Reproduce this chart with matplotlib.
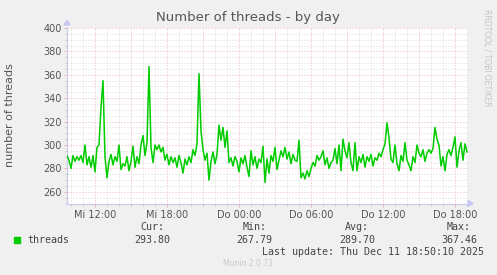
import numpy as np
import matplotlib
matplotlib.use("Agg")
import matplotlib.pyplot as plt
from matplotlib.ticker import MultipleLocator

# ---- data (10-minute samples starting Wed 09:40) ----
start_hour = 9 + 40 / 60
step_hours = 10 / 60
threads = [
    291, 287, 280, 291, 286, 290, 287, 291, 285, 300,
    283, 290, 281, 291, 277, 298, 300, 332, 355, 290,
    272, 286, 292, 283, 290, 286, 300, 279, 284, 282,
    290, 278, 286, 299, 281, 290, 284, 300, 308, 291,
    302, 367, 298, 285, 300, 296, 300, 294, 298, 287,
    292, 283, 290, 285, 289, 281, 291, 285, 276, 288,
    283, 290, 285, 296, 291, 301, 361, 312, 296, 287,
    293, 270, 286, 294, 284, 292, 317, 304, 315, 298,
    312, 285, 289, 282, 290, 286, 277, 289, 284, 291,
    281, 273, 295, 283, 290, 280, 288, 285, 299, 268,
    288, 276, 291, 286, 298, 279, 287, 295, 290, 298,
    288, 294, 284, 292, 287, 286, 304, 272, 276, 271,
    278, 273, 280, 285, 282, 291, 287, 290, 295, 283,
    289, 280, 285, 287, 297, 284, 300, 278, 305, 295,
    289, 302, 285, 278, 302, 278, 290, 285, 292, 281,
    290, 286, 292, 282, 289, 287, 293, 290, 296, 301,
    319, 306, 288, 285, 300, 284, 278, 291, 286, 302,
    287, 283, 278, 290, 285, 300, 293, 290, 296, 286,
    293, 296, 293, 297, 315, 305, 300, 282, 290, 278,
    292, 296, 291, 298, 307, 281, 295, 302, 287, 301,
    294,
]
tick_hours = [12, 18, 24, 30, 36, 42]
tick_labels = ["Mi 12:00", "Mi 18:00", "Do 00:00", "Do 06:00", "Do 12:00", "Do 18:00"]
y_ticks = [260, 280, 300, 320, 340, 360, 380, 400]
stat_names = ["Cur:", "Min:", "Avg:", "Max:"]
stat_values = ["293.80", "267.79", "289.70", "367.46"]

hours = start_hour + step_hours * np.arange(len(threads))

W, H = 497, 275
fig = plt.figure(figsize=(W / 100, H / 100), dpi=100, facecolor="#f0f0f0")
L, R, T, B = 67, 468, 28, 203.5
ax = fig.add_axes([L / W, 1 - B / H, (R - L) / W, (B - T) / H])
ax.set_facecolor("white")

ax.set_xlim(start_hour, start_hour + (R - L) / 12)
ax.set_ylim(250, 400)

# grid
minor_col = "#d8d8d8"
major_col = "#eab4b4"
dots = (0, (1, 2))
for h in np.arange(10, 44, 1):
    col = major_col if h % 3 == 0 else minor_col
    ax.axvline(h, color=col, lw=0.72, ls=dots, zorder=1)
for v in np.arange(255, 401, 5):
    col = major_col if v % 20 == 0 else minor_col
    ax.axhline(v, color=col, lw=0.72, ls=dots, zorder=1)

ax.plot(hours, threads, color="#00cc00", lw=1.1, zorder=3)

for s in ["top", "right"]:
    ax.spines[s].set_visible(False)
for s in ["left", "bottom"]:
    ax.spines[s].set_color("#c8c8f0")
    ax.spines[s].set_linewidth(0.8)

ax.set_xticks(tick_hours)
ax.set_xticklabels(tick_labels)
ax.xaxis.set_minor_locator(MultipleLocator(1))
ax.set_yticks(y_ticks)
ax.set_yticklabels([str(v) for v in y_ticks])
ax.yaxis.set_minor_locator(MultipleLocator(5))
ax.tick_params(axis="both", which="major", length=2, width=0.6, color="#e8a8a8",
               labelsize=7, labelcolor="#555555", pad=2)
ax.tick_params(axis="both", which="minor", length=1.5, width=0.6, color="#c0c0c0")
ax.tick_params(axis="x", which="major", pad=3)

# axis arrows
fig.patches.append(plt.Polygon([[(L - 3) / W, 1 - 25 / H], [(L + 3) / W, 1 - 25 / H], [L / W, 1 - 20 / H]],
                               closed=True, transform=fig.transFigure, color="#c8c8f0"))
fig.patches.append(plt.Polygon([[(R) / W, 1 - (B - 3) / H], [(R) / W, 1 - (B + 3) / H], [(R + 5) / W, 1 - B / H]],
                               closed=True, transform=fig.transFigure, color="#c8c8f0"))

def fx(x):
    return x / W

def fy(y):
    return 1 - y / H

fig.text(fx(248), fy(18), "Number of threads - by day", ha="center", va="center",
         fontsize=9.5, color="#555555")
fig.text(fx(10), fy(115.5), "number of threads", rotation=90, ha="center", va="center",
         fontsize=8, color="#555555")
fig.text(fx(487), fy(58), "RRDTOOL / TOBI OETIKER", rotation=270, ha="center", va="center",
         fontsize=5.5, color="#c4c4c4")

mono = "DejaVu Sans Mono"
fig.patches.append(plt.Rectangle((fx(14), fy(243)), 6 / W, 6 / H, transform=fig.transFigure,
                                 color="#00cc00"))
fig.text(fx(27), fy(240), "threads", ha="left", va="center", fontsize=7.2, family=mono, color="#444444")
name_x = [140, 243, 345, 447]
val_x = [134, 236, 339, 441]
for nx, vx, n, v in zip(name_x, val_x, stat_names, stat_values):
    fig.text(fx(nx), fy(227), n, ha="left", va="center", fontsize=7.2, family=mono, color="#444444")
    fig.text(fx(vx), fy(240), v, ha="left", va="center", fontsize=7.2, family=mono, color="#444444")
fig.text(fx(262), fy(252), "Last update: Thu Dec 11 18:50:10 2025", ha="left", va="center",
         fontsize=7.2, family=mono, color="#444444")
fig.text(fx(248), fy(264), "Munin 2.0.73", ha="center", va="center", fontsize=5.5, color="#c8c8c8")

fig.savefig("out.png", dpi=100, facecolor=fig.get_facecolor())
